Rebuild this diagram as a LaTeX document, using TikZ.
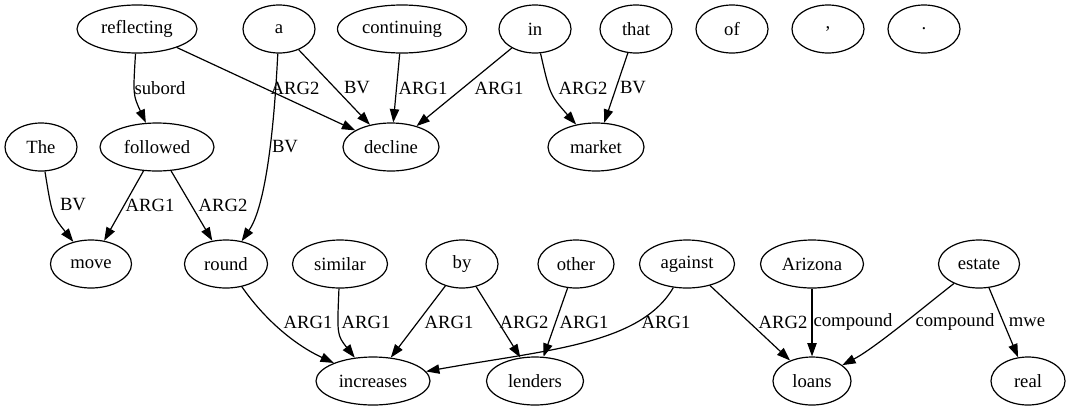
\documentclass[tikz,border=0pt]{standalone}
\usepackage{fontspec}
\setmainfont{Liberation Serif}
\usetikzlibrary{arrows.meta,shapes.geometric}
\begin{document}
\begin{tikzpicture}[x=0.75pt,y=-0.75pt,
  nd/.style={ellipse,draw,line width=0.9pt,minimum height=36pt,minimum width=#1*0.75pt,inner sep=0pt,font=\fontsize{14}{16}\selectfont},
  lbl/.style={inner sep=0pt,font=\fontsize{14}{16}\selectfont},
  edge/.style={draw,line width=0.9pt,-{Triangle[length=10pt,width=7pt]}}]
\useasboundingbox (0,0) rectangle (1069,411);
% row 1
\node[nd=120] (reflecting) at (137,29) {reflecting};
\node[nd=72] (a) at (279,29) {a};
\node[nd=129] (continuing) at (402,29) {continuing};
\node[nd=72] (in) at (535,29) {in};
\node[nd=72] (that) at (636,29) {that};
\node[nd=72] (of) at (732,29) {of};
\node[nd=72] (comma) at (828,29) {,};
\node[nd=72] (period) at (924,29) {.};
% row 2
\node[nd=72] (The) at (41,147) {The};
\node[nd=114] (followed) at (157,147) {followed};
\node[nd=96] (decline) at (391,147) {decline};
\node[nd=96] (market) at (596,147) {market};
% row 3
\node[nd=81] (move) at (91,264) {move};
\node[nd=83] (round) at (226,264) {round};
\node[nd=95] (similar) at (340,264) {similar};
\node[nd=72] (by) at (462,264) {by};
\node[nd=76] (other) at (576,264) {other};
\node[nd=95] (against) at (687,264) {against};
\node[nd=103] (Arizona) at (812,264) {Arizona};
\node[nd=81] (estate) at (979,264) {estate};
% row 4
\node[nd=114] (increases) at (373,381) {increases};
\node[nd=97] (lenders) at (535,381) {lenders};
\node[nd=78] (loans) at (812,381) {loans};
\node[nd=74] (real) at (1028,381) {real};
% edges
\draw[edge] (reflecting) .. controls (133,95) .. (followed);
\draw[edge] (reflecting) -- (decline);
\draw[edge] (a) -- (decline);
\draw[edge] (a) .. controls (273,150) and (263,210) .. (round);
\draw[edge] (continuing) -- (decline);
\draw[edge] (in) -- (decline);
\draw[edge] (in) .. controls (550,95) .. (market);
\draw[edge] (that) -- (market);
\draw[edge] (The) .. controls (52,215) .. (move);
\draw[edge] (followed) -- (move);
\draw[edge] (followed) -- (round);
\draw[edge] (round) .. controls (265,320) and (295,345) .. (increases);
\draw[edge] (similar) .. controls (337,335) .. (increases);
\draw[edge] (by) -- (increases);
\draw[edge] (by) -- (lenders);
\draw[edge] (other) -- (lenders);
\draw[edge] (against) .. controls (640,345) and (545,350) .. (increases);
\draw[edge] (against) -- (loans);
\draw[edge] (Arizona) -- (loans);
\draw[edge] (estate) .. controls (925,306) and (875,348) .. (loans);
\draw[edge] (estate) -- (real);
% labels
\node[lbl] (l1) at (160,88) {subord};
\node[lbl] (l2) at (295,88) {ARG2};
\node[lbl] (l3) at (357,88) {BV};
\node[lbl] (l4) at (423,88) {ARG1};
\node[lbl] (l5) at (499,88) {ARG1};
\node[lbl] (l6) at (583,88) {ARG2};
\node[lbl] (l7) at (633,88) {BV};
\node[lbl] (l8) at (285,147) {BV};
\node[lbl] (l9) at (73,205) {BV};
\node[lbl] (l10) at (150,205) {ARG1};
\node[lbl] (l11) at (223,205) {ARG2};
\node[lbl] (l12) at (308,322) {ARG1};
\node[lbl] (l13) at (366,322) {ARG1};
\node[lbl] (l14) at (449,322) {ARG1};
\node[lbl] (l15) at (524,322) {ARG2};
\node[lbl] (l16) at (584,322) {ARG1};
\node[lbl] (l17) at (666,322) {ARG1};
\node[lbl] (l18) at (783,322) {ARG2};
\node[lbl] (l19) at (853,322) {compound};
\node[lbl] (l20) at (955,322) {compound};
\node[lbl] (l21) at (1027,322) {mwe};
\end{tikzpicture}
\end{document}
